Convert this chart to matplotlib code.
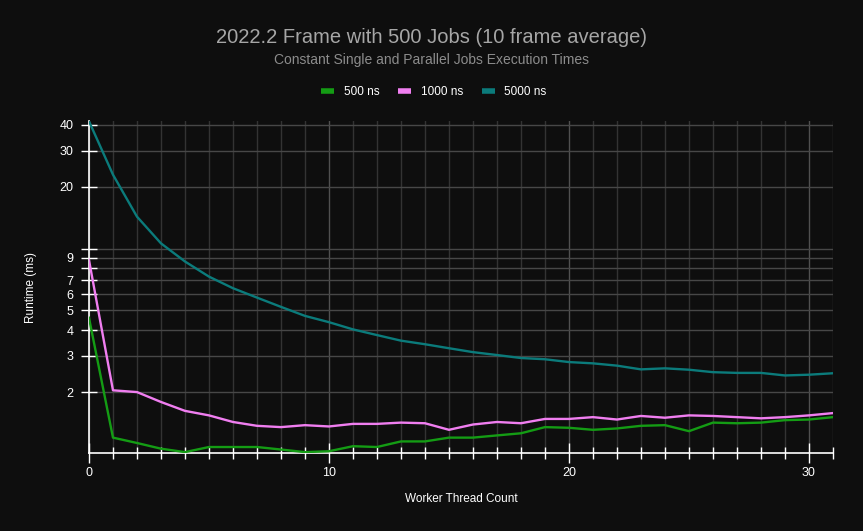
import matplotlib
matplotlib.use("Agg")
import matplotlib.pyplot as plt
from matplotlib.lines import Line2D
from matplotlib.ticker import FixedLocator, MultipleLocator, NullFormatter

plt.rcParams["font.family"] = ["Liberation Sans", "DejaVu Sans"]

# ── data (runtime in ms per worker thread count) ──
threads = list(range(32))
rt_500 = [4.6, 1.20, 1.13, 1.06, 1.02, 1.08, 1.08, 1.08, 1.05, 1.02,
          1.03, 1.09, 1.08, 1.15, 1.15, 1.20, 1.20, 1.23, 1.26, 1.35,
          1.34, 1.31, 1.33, 1.37, 1.38, 1.29, 1.42, 1.41, 1.42, 1.46,
          1.47, 1.51]
rt_1000 = [8.8, 2.04, 2.00, 1.79, 1.62, 1.54, 1.43, 1.37, 1.35, 1.38,
           1.36, 1.40, 1.40, 1.42, 1.41, 1.31, 1.39, 1.43, 1.41, 1.48,
           1.48, 1.51, 1.47, 1.53, 1.50, 1.54, 1.53, 1.51, 1.49, 1.51,
           1.54, 1.58]
rt_5000 = [41.7, 22.9, 14.3, 10.6, 8.65, 7.3, 6.41, 5.77, 5.2, 4.7,
           4.38, 4.04, 3.79, 3.56, 3.42, 3.27, 3.13, 3.03, 2.93, 2.89,
           2.80, 2.76, 2.69, 2.58, 2.61, 2.57, 2.50, 2.48, 2.48, 2.41,
           2.43, 2.47]

series = [("500 ns", rt_500, "#149c14"),
          ("1000 ns", rt_1000, "#f07ef0"),
          ("5000 ns", rt_5000, "#0b7b7b")]

y_ticks = [2, 3, 4, 5, 6, 7, 8, 9, 10, 20, 30, 40]
y_labels = ["2", "3", "4", "5", "6", "7", "", "9", "", "20", "30", "40"]

BG = "#0e0e0e"
fig = plt.figure(figsize=(8.63, 5.31), dpi=100, facecolor=BG)
ax = fig.add_axes([0.1031, 0.1469, 0.8621, 0.6252], facecolor=BG)

for name, vals, col in series:
    ax.plot(threads, vals, color=col, lw=1.7, label=name, zorder=3)

ax.set_yscale("log")
ax.set_xlim(0, 31)
ax.set_ylim(1.01, 41.8)

ax.yaxis.set_major_locator(FixedLocator(y_ticks))
ax.set_yticklabels(y_labels)
ax.yaxis.set_minor_locator(FixedLocator([]))
ax.yaxis.set_minor_formatter(NullFormatter())
ax.xaxis.set_major_locator(MultipleLocator(10))
ax.xaxis.set_minor_locator(MultipleLocator(1))

ax.tick_params(axis="y", which="major", direction="inout", length=12, width=1,
               color="white", labelcolor="white", labelsize=9, pad=5)
ax.tick_params(axis="x", which="major", direction="inout", length=14, width=1,
               color="white", labelcolor="white", labelsize=9, pad=3)
ax.tick_params(axis="x", which="minor", direction="inout", length=8, width=1,
               color="white")

ax.grid(True, axis="y", which="major", color="#474747", lw=1)
ax.grid(True, axis="x", which="major", color="#505050", lw=1)
ax.grid(True, axis="x", which="minor", color="#333333", lw=1)
ax.set_axisbelow(True)

ax.spines[["top", "right"]].set_visible(False)
for s in ["left", "bottom"]:
    ax.spines[s].set_color("white")
    ax.spines[s].set_linewidth(1.2)

ax.set_xlabel("Worker Thread Count", color="white", fontsize=8.5, labelpad=10)
ax.set_ylabel("Runtime (ms)", color="white", fontsize=8.5, labelpad=16)

fig.text(0.5, 0.930, "2022.2 Frame with 500 Jobs (10 frame average)",
         ha="center", va="center", color="#a6a6a6", fontsize=14.5)
fig.text(0.5, 0.887, "Constant Single and Parallel Jobs Execution Times",
         ha="center", va="center", color="#8c8c8c", fontsize=10)

handles = [Line2D([0], [0], color=c, lw=4, solid_capstyle="butt") for _, _, c in series]
leg = fig.legend(handles, [n for n, _, _ in series], loc="center",
                 bbox_to_anchor=(0.503, 0.827), ncol=3, frameon=False,
                 handlelength=1.1, handletextpad=0.8, columnspacing=1.6,
                 fontsize=8.5)
for t in leg.get_texts():
    t.set_color("white")

fig.savefig("out.png", dpi=100, facecolor=BG)
